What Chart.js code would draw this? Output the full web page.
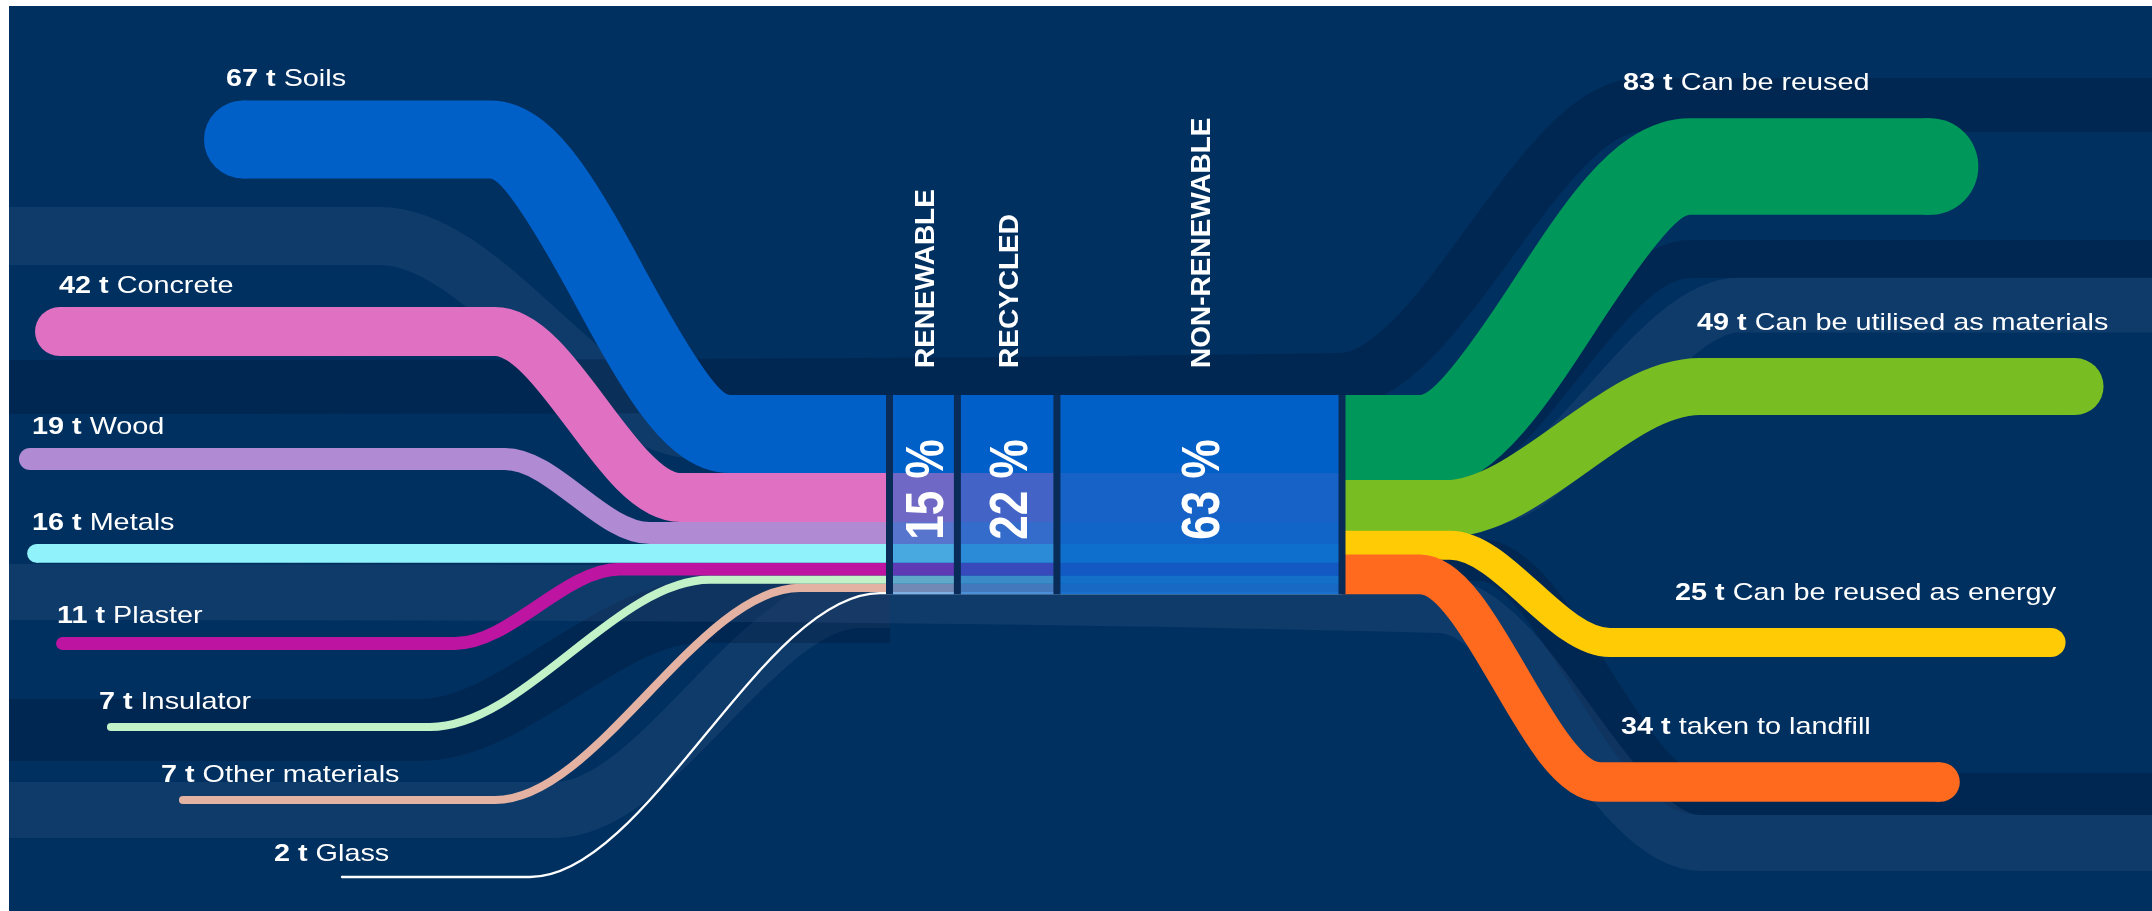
<!DOCTYPE html>
<html>
<head>
<meta charset="utf-8">
<script src="https://cdn.jsdelivr.net/npm/chart.js@4.4.1/dist/chart.umd.min.js"></script>
<style>
    html, body { margin: 0; padding: 0; background: #ffffff; overflow: hidden; }
    #chart { display: block; }
</style>
</head>
<body>
<canvas id="chart" width="2152" height="911"></canvas>
<script>
// Data
const materials = ['Soils', 'Concrete', 'Wood', 'Metals', 'Plaster', 'Insulator', 'Other materials', 'Glass'];
const materialTonnes = [67, 42, 19, 16, 11, 7, 7, 2];
const outcomes = ['Can be reused', 'Can be utilised as materials', 'Can be reused as energy', 'taken to landfill'];
const outcomeTonnes = [83, 49, 25, 34];
const shareNames = ['RENEWABLE', 'RECYCLED', 'NON-RENEWABLE'];
const shares = [15, 22, 63];

// Colours
const BG = '#003060';
const materialColors = ['#0060c8', '#e070c2', '#b08ad2', '#90f2fa', '#bd14a2', '#c2f2c8', '#e4b2a2', '#ffffff'];
const outcomeColors = ['#00975b', '#78bd22', '#ffcb05', '#ff6a1f'];
const shareAlpha = [0.5, 0.7, 0.9];   // blue wash over the flows in each column
const SEP_COLOR = '#082b58';
const LIGHT = 'rgba(60,90,140,0.25)';
const DARK = 'rgba(0,20,50,0.3)';

// Layout, in page pixels (the scales map 1 unit = 1 px)
const FRAME = { left: 9, top: 6, right: 2152, bottom: 911 };
const T_PX = 1.165;              // band thickness per tonne
const STACK_TOP = 395;
const BLOCK = { left: 889.5, right: 1342, gap: 7 };
const LABEL_STRETCH = 1.2;
const FONT = '"Liberation Sans", Arial, sans-serif';

// left end of every material band: cap centre x, centre y (null = runs straight), bend start/end x, label x
const matStartX = [243, 59.5, 30, 36.5, 62.5, 111, 183, 342];
const matEndY = [139.5, 331.5, 459, null, 643.5, 727, 800, 877];
const matBend = [[490, 730], [495, 680], [505, 650], null, [455, 620], [430, 710], [495, 800], [530, 880]];
const matLabelX = [226, 59, 32, 32, 57, 99, 161, 274];

// right end of every outcome band
const outEndX = [1930, 2075, 2051, 1940];
const outEndY = [166.5, 386.5, 642.5, 782];
const outBend = [[1420, 1690], [1445, 1700], [1450, 1610], [1420, 1600]];
const outLabelX = [1623, 1697, 1675, 1621];

// faint background ribbons
const ghosts = [
    { pts: [[0, 387], [1340, 380], [1640, 105], [2152, 105]], w: 54, color: DARK },
    { pts: [[0, 236], [380, 236], [700, 430], [890, 430]], w: 58, color: LIGHT },
    { pts: [[0, 592], [1440, 605], [1700, 843], [2152, 843]], w: 56, color: LIGHT },
    { pts: [[0, 730], [420, 730], [700, 612], [890, 612]], w: 62, color: DARK },
    { pts: [[1342, 470], [1440, 470], [1690, 259], [2152, 259]], w: 38, color: DARK },
    { pts: [[1342, 500], [1480, 500], [1740, 305], [2152, 305]], w: 55, color: LIGHT },
    { pts: [[0, 810], [555, 810], [860, 600], [890, 600]], w: 56, color: LIGHT },
    { pts: [[1342, 560], [1480, 560], [1700, 794], [2152, 794]], w: 42, color: DARK }
];

// Stack the material bands where they meet the block
let acc = STACK_TOP;
const matSlot = materialTonnes.map(t => {
    const w = t * T_PX;
    const c = acc + w / 2;
    acc += w;
    return { w, c };
});
const STACK_BOTTOM = acc;

// Outcome bands keep full width at their ends and are squeezed into the same stack at the join
const outW = outcomeTonnes.map(t => t * T_PX);
const outTotal = outW.reduce((a, b) => a + b, 0);
const squeeze = (STACK_BOTTOM - STACK_TOP) / outTotal;
let acc2 = 0;
const outRaw = outW.map(w => {
    const c = acc2 + w * squeeze / 2;
    acc2 += w * squeeze;
    return c;
});
const last = outW.length - 1;
const joinTop = STACK_TOP + outW[0] / 2;
const joinBottom = STACK_BOTTOM - outW[last] / 2;
const outJoinY = outRaw.map(r => joinTop + (r - outRaw[0]) / (outRaw[last] - outRaw[0]) * (joinBottom - joinTop));

// Column edges from the shares
const columns = [];
let cum = 0;
shares.forEach(s => {
    const a = BLOCK.left + (BLOCK.right - BLOCK.left) * cum / 100;
    cum += s;
    const b = BLOCK.left + (BLOCK.right - BLOCK.left) * cum / 100;
    columns.push({ a, b, mid: (a + b) / 2 });
});
const sepX = [BLOCK.left].concat(columns.map(c => c.b));

// Helpers: convert layout units to pixels through the chart scales
const pxY = (chart, u) => Math.abs(chart.scales.y.getPixelForValue(u) - chart.scales.y.getPixelForValue(0));
const pxX = (chart, a, b) => Math.abs(chart.scales.x.getPixelForValue(b) - chart.scales.x.getPixelForValue(a));

function band(points, width, color, capIndex, order) {
    return {
        type: 'line',
        data: points,
        borderColor: color,
        backgroundColor: color,
        borderWidth: c => pxY(c.chart, width),
        borderCapStyle: 'butt',
        borderJoinStyle: 'round',
        cubicInterpolationMode: 'monotone',
        fill: false,
        pointRadius: c => c.dataIndex === capIndex ? pxY(c.chart, width) / 2 : 0,
        pointBackgroundColor: color,
        pointBorderWidth: 0,
        pointHoverRadius: 0,
        order: order
    };
}

const datasets = [];

ghosts.forEach((g, i) => {
    datasets.push(band(g.pts.map(p => ({ x: p[0], y: p[1] })), g.w, g.color, -1, 100 + i));
});

materials.forEach((m, i) => {
    const slot = matSlot[i];
    const y0 = matEndY[i] === null ? slot.c : matEndY[i];
    const pts = [{ x: matStartX[i], y: y0 }];
    if (matBend[i]) {
        pts.push({ x: matBend[i][0], y: y0 }, { x: matBend[i][1], y: slot.c });
    }
    pts.push({ x: BLOCK.right, y: slot.c });
    datasets.push(band(pts, slot.w, materialColors[i], 0, 20 + i));
});

outcomes.forEach((o, i) => {
    const pts = [
        { x: BLOCK.right, y: outJoinY[i] },
        { x: outBend[i][0], y: outJoinY[i] },
        { x: outBend[i][1], y: outEndY[i] },
        { x: outEndX[i], y: outEndY[i] }
    ];
    datasets.push(band(pts, outW[i], outcomeColors[i], 3, 10 - i));
});

// blue wash for each share column
columns.forEach((col, i) => {
    datasets.push({
        type: 'line',
        data: [{ x: col.mid, y: STACK_TOP }, { x: col.mid, y: STACK_BOTTOM }],
        borderColor: `rgba(0,96,200,${shareAlpha[i]})`,
        borderWidth: c => pxX(c.chart, col.a, col.b),
        borderCapStyle: 'butt',
        tension: 0,
        pointRadius: 0,
        order: 2
    });
});

// dark separators between the columns
sepX.forEach(x => {
    datasets.push({
        type: 'line',
        data: [{ x: x, y: STACK_TOP }, { x: x, y: STACK_BOTTOM }],
        borderColor: SEP_COLOR,
        borderWidth: c => pxX(c.chart, 0, BLOCK.gap),
        borderCapStyle: 'butt',
        tension: 0,
        pointRadius: 0,
        order: 1
    });
});

// Background frame
const backgroundPlugin = {
    id: 'frame',
    beforeDraw(chart) {
        const ctx = chart.ctx;
        const { x, y } = chart.scales;
        ctx.save();
        ctx.fillStyle = '#ffffff';
        ctx.fillRect(0, 0, chart.width, chart.height);
        ctx.fillStyle = BG;
        const l = x.getPixelForValue(FRAME.left), t = y.getPixelForValue(FRAME.top);
        ctx.fillRect(l, t, x.getPixelForValue(FRAME.right) - l, y.getPixelForValue(FRAME.bottom) - t);
        ctx.restore();
    }
};

function drawFlowLabel(ctx, px, py, tonnes, name) {
    ctx.save();
    ctx.translate(px, py);
    ctx.scale(LABEL_STRETCH, 1);
    ctx.fillStyle = '#ffffff';
    ctx.textBaseline = 'middle';
    ctx.textAlign = 'left';
    const bold = `${tonnes} t`;
    ctx.font = `bold 24px ${FONT}`;
    ctx.fillText(bold, 0, 0);
    const w = ctx.measureText(bold).width;
    ctx.font = `24px ${FONT}`;
    ctx.fillText(' ' + name, w, 0);
    ctx.restore();
}

function drawRotated(ctx, px, py, text, size, align, stretch) {
    ctx.save();
    ctx.translate(px, py);
    ctx.scale(stretch, 1);
    ctx.rotate(-Math.PI / 2);
    ctx.fillStyle = '#ffffff';
    ctx.font = `bold ${size}px ${FONT}`;
    ctx.textAlign = align;
    ctx.textBaseline = 'alphabetic';
    ctx.fillText(text, 0, size * 0.358);
    ctx.restore();
}

const labelPlugin = {
    id: 'labels',
    afterDraw(chart) {
        const ctx = chart.ctx;
        const { x, y } = chart.scales;

        materials.forEach((m, i) => {
            const slot = matSlot[i];
            const yc = matEndY[i] === null ? slot.c : matEndY[i];
            drawFlowLabel(ctx, x.getPixelForValue(matLabelX[i]), y.getPixelForValue(yc - slot.w / 2 - 21), materialTonnes[i], m);
        });

        outcomes.forEach((o, i) => {
            drawFlowLabel(ctx, x.getPixelForValue(outLabelX[i]), y.getPixelForValue(outEndY[i] - outW[i] / 2 - 35), outcomeTonnes[i], o);
        });

        columns.forEach((col, i) => {
            const cx = x.getPixelForValue(col.mid) + 1;
            drawRotated(ctx, cx, y.getPixelForValue(STACK_TOP - 27), shareNames[i], 28, 'left', 1);
            drawRotated(ctx, cx, y.getPixelForValue((STACK_TOP + STACK_BOTTOM) / 2 - 5), `${shares[i]} %`, 44, 'center', 1.2);
        });
    }
};

new Chart(document.getElementById('chart').getContext('2d'), {
    type: 'line',
    data: { datasets: datasets },
    options: {
        responsive: false,
        devicePixelRatio: 1,
        animation: false,
        events: [],
        layout: { padding: { left: FRAME.left, top: FRAME.top, right: 0, bottom: 0 } },
        scales: {
            x: { type: 'linear', min: FRAME.left, max: FRAME.right, display: false },
            y: { type: 'linear', min: FRAME.top, max: FRAME.bottom, reverse: true, display: false }
        },
        plugins: {
            legend: { display: false },
            tooltip: { enabled: false }
        }
    },
    plugins: [backgroundPlugin, labelPlugin]
});
</script>
</body>
</html>
